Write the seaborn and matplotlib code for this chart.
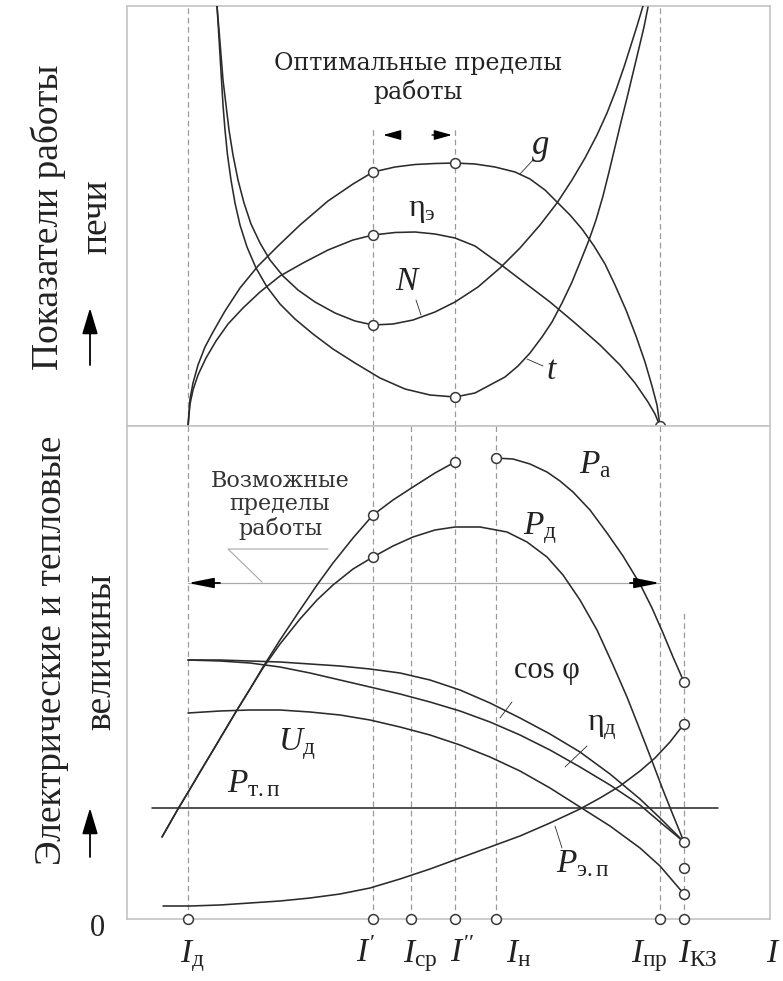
import matplotlib
matplotlib.use("Agg")
import matplotlib.pyplot as plt
from matplotlib.patches import FancyArrowPatch
import pandas as pd
import seaborn as sns

sns.set_theme(style="white")
plt.rcParams["font.family"] = ["Liberation Serif", "DejaVu Serif"]
plt.rcParams["mathtext.fontset"] = "custom"
plt.rcParams["mathtext.rm"] = "Liberation Serif"
plt.rcParams["mathtext.it"] = "Liberation Serif:italic"
plt.rcParams["mathtext.bf"] = "Liberation Serif:bold"

# Qualitative diagram: relative units, current axis 0..643,
# upper panel 0..420, lower panel 0..493.

# ---- characteristic currents ----
I_D, I_1, I_SR, I_2, I_N, I_PR, I_KZ = 61, 246, 284, 328, 369, 533, 557
current_ticks = [I_D, I_1, I_SR, I_2, I_N, I_PR, I_KZ]
current_labels = [r"$I_{\mathrm{д}}$", r"$I'$", r"$I_{\mathrm{ср}}$", r"$I''$",
                  r"$I_{\mathrm{н}}$", r"$I_{\mathrm{пр}}$", r"$I_{\mathrm{КЗ}}$"]
current_label_x = [65, 239, 293, 335, 392, 522, 571]

# ---- furnace performance indicators (upper panel) ----
g_x = [61, 63, 66, 71, 78, 86, 98, 113, 131, 151, 173, 201, 226, 246, 268, 288,
       308, 328, 348, 368, 388, 403, 418, 430, 443, 455, 467, 478, 488, 499, 509,
       518, 525, 530, 533]
g_y = [0, 27, 43, 61, 79, 94, 115, 138, 160, 180, 201, 225, 242, 254, 259, 261.5,
       262.5, 263, 262, 259, 254, 247, 236, 224, 211, 197, 180, 162, 141, 116, 90,
       64, 40, 21, 0]

eta_e_x = [61, 63, 66, 71, 79, 89, 101, 116, 133, 153, 176, 201, 226, 246, 268,
           288, 308, 328, 348, 373, 398, 423, 448, 473, 493, 508, 521, 528, 533]
eta_e_y = [0, 22, 36, 51, 68, 85, 102, 118, 134, 150, 163, 176, 186, 191, 193.5,
           194, 192, 188, 180, 162, 143, 124, 103, 81, 61, 43, 24, 12, 0]

N_x = [90, 92, 94, 96, 99, 102, 106, 111, 117, 124, 133, 143, 156, 171, 188, 208,
       228, 246, 266, 286, 308, 328, 351, 373, 393, 413, 430, 445, 458, 470, 480,
       489, 497, 504, 510, 516]
N_y = [420, 396, 371, 346, 321, 296, 271, 246, 223, 202, 183, 166, 150, 136, 124,
       113, 105, 101, 102, 106, 114, 124, 139, 158, 178, 201, 223, 246, 268, 291,
       313, 336, 359, 381, 400, 420]

t_x = [90, 91.5, 93, 94.5, 96, 98, 100.5, 104, 108, 113, 120, 129, 140, 153, 168,
       186, 206, 228, 253, 278, 303, 328, 348, 363, 378, 391, 403, 415, 425, 435,
       445, 454, 462, 469, 476, 482, 488, 494, 500, 506, 512, 517, 521]
t_y = [420, 396, 371, 346, 321, 296, 271, 246, 223, 201, 179, 158, 139, 122, 107,
       92, 77, 63, 48, 37, 31, 29, 33, 41, 49, 60, 73, 89, 104, 123, 144, 166, 186,
       206, 230, 254, 279, 304, 328, 353, 378, 399, 419]

top_pts_x = [I_1, I_2, I_1, I_1, I_2, I_PR]
top_pts_y = [254, 263, 191, 101, 29, 0]

# ---- electrical and thermal quantities (lower panel) ----
Pa_x1 = [35, 43, 51, 63, 73, 88, 110, 123, 136, 153, 173, 190, 206, 226, 246, 266,
         286, 308, 328]
Pa_y1 = [82, 96, 110, 130, 147, 172, 209, 230, 252, 279, 309, 334, 356, 381, 404,
         419, 432, 446, 457]
Pa_x2 = [368, 386, 403, 420, 433, 446, 463, 480, 496, 513, 525, 536, 546, 557]
Pa_y2 = [461, 460, 455, 447, 438, 427, 409, 386, 363, 335, 311, 286, 262, 237]

Pd_x = [35, 43, 51, 63, 73, 88, 110, 123, 136, 153, 173, 190, 206, 226, 246, 266,
        286, 308, 328, 353, 380, 400, 420, 436, 453, 470, 486, 500, 513, 525, 536,
        546, 557]
Pd_y = [82, 96, 110, 130, 147, 172, 209, 230, 251, 275, 300, 319, 334, 350, 362,
        373, 382, 389, 392, 392, 387, 377, 362, 344, 319, 289, 254, 222, 189, 158,
        129, 104, 77]

grid_x = [61, 93, 123, 153, 183, 213, 243, 273, 303, 333, 363, 393, 423, 453, 483,
          513, 533, 557]
cos_y = [259, 259, 258, 257, 255, 253, 250, 246, 239, 229, 216, 201, 185, 167, 145,
         120, 101, 77]
eta_d_y = [259, 258, 256, 252, 246, 239, 232, 225, 217, 208, 197, 184, 169, 152,
           134, 114, 97, 77]
Ud_y = [206, 208, 209, 209, 207, 204, 199, 192, 184, 174, 162, 148, 131, 112, 93,
        71, 53, 25]

Pep_x = [36, 63, 93, 123, 153, 183, 213, 243, 273, 303, 333, 363, 393, 423, 453,
         473, 493, 513, 528, 543, 557]
Pep_y = [13, 13, 14, 16, 18, 21, 25, 31, 40, 50, 61, 72, 83, 96, 110, 121, 133,
         148, 161, 177, 195]

Ptp_x = [25, 591]
Ptp_y = [111, 111]

bot_pts_x = [I_1, I_2, I_N, I_1, I_KZ, I_KZ, I_KZ, I_KZ, I_KZ]
bot_pts_y = [404, 457, 461, 362, 237, 195, 77, 51, 25]

LINE = "#2b2b2b"
DASH = "#9a9a9a"
FRAME = "#c4c4c4"
TXT = "#222222"

fig = plt.figure(figsize=(7.83, 9.81), dpi=100)
ax_t = fig.add_axes([0.1622, 0.56575, 0.8212, 0.42813])
ax_b = fig.add_axes([0.1622, 0.06320, 0.8212, 0.50255])
ax_t.set_ylim(0, 420)
ax_b.set_ylim(0, 493)

for ax in (ax_t, ax_b):
    ax.set_xlim(0, 643)
    ax.set_xticks([])
    ax.set_yticks([])
    for s in ax.spines.values():
        s.set_color(FRAME)
        s.set_linewidth(1.2)


def curve(ax, xs, ys):
    df = pd.DataFrame({"x": xs, "y": ys})
    sns.lineplot(data=df, x="x", y="y", ax=ax, color=LINE, linewidth=1.15,
                 estimator=None, sort=False, zorder=3)
    ax.set_xlabel("")
    ax.set_ylabel("")


def circles(ax, xs, ys):
    df = pd.DataFrame({"x": xs, "y": ys})
    sns.scatterplot(data=df, x="x", y="y", ax=ax, marker="o", s=50,
                    color="white", edgecolor="#3a3a3a", linewidth=1.1,
                    zorder=6, clip_on=False)
    ax.set_xlabel("")
    ax.set_ylabel("")


dash_style = (0, (4.5, 3.0))

# ---------------- upper panel ----------------
ax_t.vlines([I_D, I_PR], 0, 420, colors=DASH, linestyles=[dash_style], linewidth=0.9)
ax_t.vlines([I_1, I_2], 0, 298, colors=DASH, linestyles=[dash_style], linewidth=0.9)

for xs, ys in [(g_x, g_y), (eta_e_x, eta_e_y), (N_x, N_y), (t_x, t_y)]:
    curve(ax_t, xs, ys)
circles(ax_t, top_pts_x, top_pts_y)

arrow_kw = dict(arrowstyle="-|>,head_length=0.9,head_width=0.25", color="black",
                lw=1.0, shrinkA=0, shrinkB=0, mutation_scale=12)
ax_t.annotate("", xy=(256, 291), xytext=(272, 291), arrowprops=arrow_kw)
ax_t.annotate("", xy=(325, 291), xytext=(305, 291), arrowprops=arrow_kw)
ax_t.text(291, 348, "Оптимальные пределы\nработы", ha="center", va="center",
          fontsize=17, family=["DejaVu Serif"], color=TXT, linespacing=1.2)

ax_t.text(413, 279, "$g$", fontsize=25, ha="center", va="center", color=TXT)
ax_t.plot([406, 393], [266, 252], color=LINE, lw=0.6)
ax_t.text(295, 216, r"$\mathrm{η}_{\mathrm{э}}$", fontsize=23, ha="center",
          va="center", color=TXT)
ax_t.text(281, 144, "$N$", fontsize=24, ha="center", va="center", color=TXT)
ax_t.plot([289, 294], [126, 111], color=LINE, lw=0.6)
ax_t.text(425, 55, "$t$", fontsize=24, ha="center", va="center", color=TXT)
ax_t.plot([416, 400], [60, 67], color=LINE, lw=0.6)

# ---------------- lower panel ----------------
ax_b.vlines([I_D, I_1, I_SR, I_2, I_N, I_PR], 0, 493, colors=DASH,
            linestyles=[dash_style], linewidth=0.9)
ax_b.vlines([I_KZ], 0, 309, colors=DASH, linestyles=[dash_style], linewidth=0.9)

for xs, ys in [(Pa_x1, Pa_y1), (Pa_x2, Pa_y2), (Pd_x, Pd_y), (grid_x, cos_y),
               (grid_x, eta_d_y), (grid_x, Ud_y), (Pep_x, Pep_y), (Ptp_x, Ptp_y)]:
    curve(ax_b, xs, ys)
circles(ax_b, bot_pts_x, bot_pts_y)
circles(ax_b, current_ticks, [0] * len(current_ticks))

# possible operating range
ax_b.plot([I_D, I_PR], [336, 336], color="#a8a8a8", lw=0.9, zorder=2)
range_kw = dict(arrowstyle="-|>,head_length=1.1,head_width=0.22", color="black",
                lw=1.3, shrinkA=0, shrinkB=0, mutation_scale=14)
ax_b.annotate("", xy=(I_D, 336), xytext=(93, 336), arrowprops=range_kw)
ax_b.annotate("", xy=(I_PR, 336), xytext=(503, 336), arrowprops=range_kw)
ax_b.plot([201, 101, 135], [370, 370, 337], color="#a8a8a8", lw=0.8)
ax_b.text(153, 414, "Возможные\nпределы\nработы", ha="center", va="center",
          fontsize=16, family=["DejaVu Serif"], color="#333333", linespacing=1.1)

ax_b.text(468, 454, r"$P_{\mathrm{а}}$", fontsize=24, ha="center", va="center", color=TXT)
ax_b.text(413, 391, r"$P_{\mathrm{д}}$", fontsize=24, ha="center", va="center", color=TXT)
ax_b.text(420, 249, "cos φ", fontsize=22, ha="center", va="center", color=TXT)
ax_b.plot([385, 373], [217, 201], color=LINE, lw=0.6)
ax_b.text(475, 191, r"$\mathrm{η}_{\mathrm{д}}$", fontsize=23, ha="center",
          va="center", color=TXT)
ax_b.plot([460, 438], [173, 152], color=LINE, lw=0.6)
ax_b.text(456, 55, r"$P_{\mathrm{э.п}}$", fontsize=24, ha="center", va="center", color=TXT)
ax_b.plot([435, 428], [71, 93], color=LINE, lw=0.6)
ax_b.text(170, 175, r"$U_{\mathrm{д}}$", fontsize=24, ha="center", va="center", color=TXT)
ax_b.text(127, 135, r"$P_{\mathrm{т.п}}$", fontsize=24, ha="center", va="center", color=TXT)

for lx, lab in zip(current_label_x, current_labels):
    ax_b.text(lx, -43, lab, fontsize=24, ha="center", va="baseline", color=TXT)
ax_b.text(646, -43, "$I$", fontsize=24, ha="center", va="baseline", color=TXT)
ax_b.text(-30, -9, "0", fontsize=22, ha="center", va="center", color=TXT)

# ---------------- vertical axis titles ----------------
W, H = 783, 981


def ftxt(px, py, s, size):
    fig.text(px / W, 1 - py / H, s, rotation=90, ha="center", va="center",
             fontsize=size, color=TXT)


ftxt(48, 217, "Показатели работы", 27)
ftxt(97, 217, "печи", 27)
ftxt(52, 650, "Электрические и тепловые", 27)
ftxt(101, 652, "величины", 27)

up_kw = dict(arrowstyle="-|>,head_length=1.0,head_width=0.3", color="black",
             lw=1.3, shrinkA=0, shrinkB=0, mutation_scale=16)
fig.add_artist(FancyArrowPatch((90 / W, 1 - 365 / H), (90 / W, 1 - 308 / H),
                               transform=fig.transFigure, **up_kw))
fig.add_artist(FancyArrowPatch((90 / W, 1 - 857 / H), (90 / W, 1 - 808 / H),
                               transform=fig.transFigure, **up_kw))

fig.savefig("out.png", dpi=100)
